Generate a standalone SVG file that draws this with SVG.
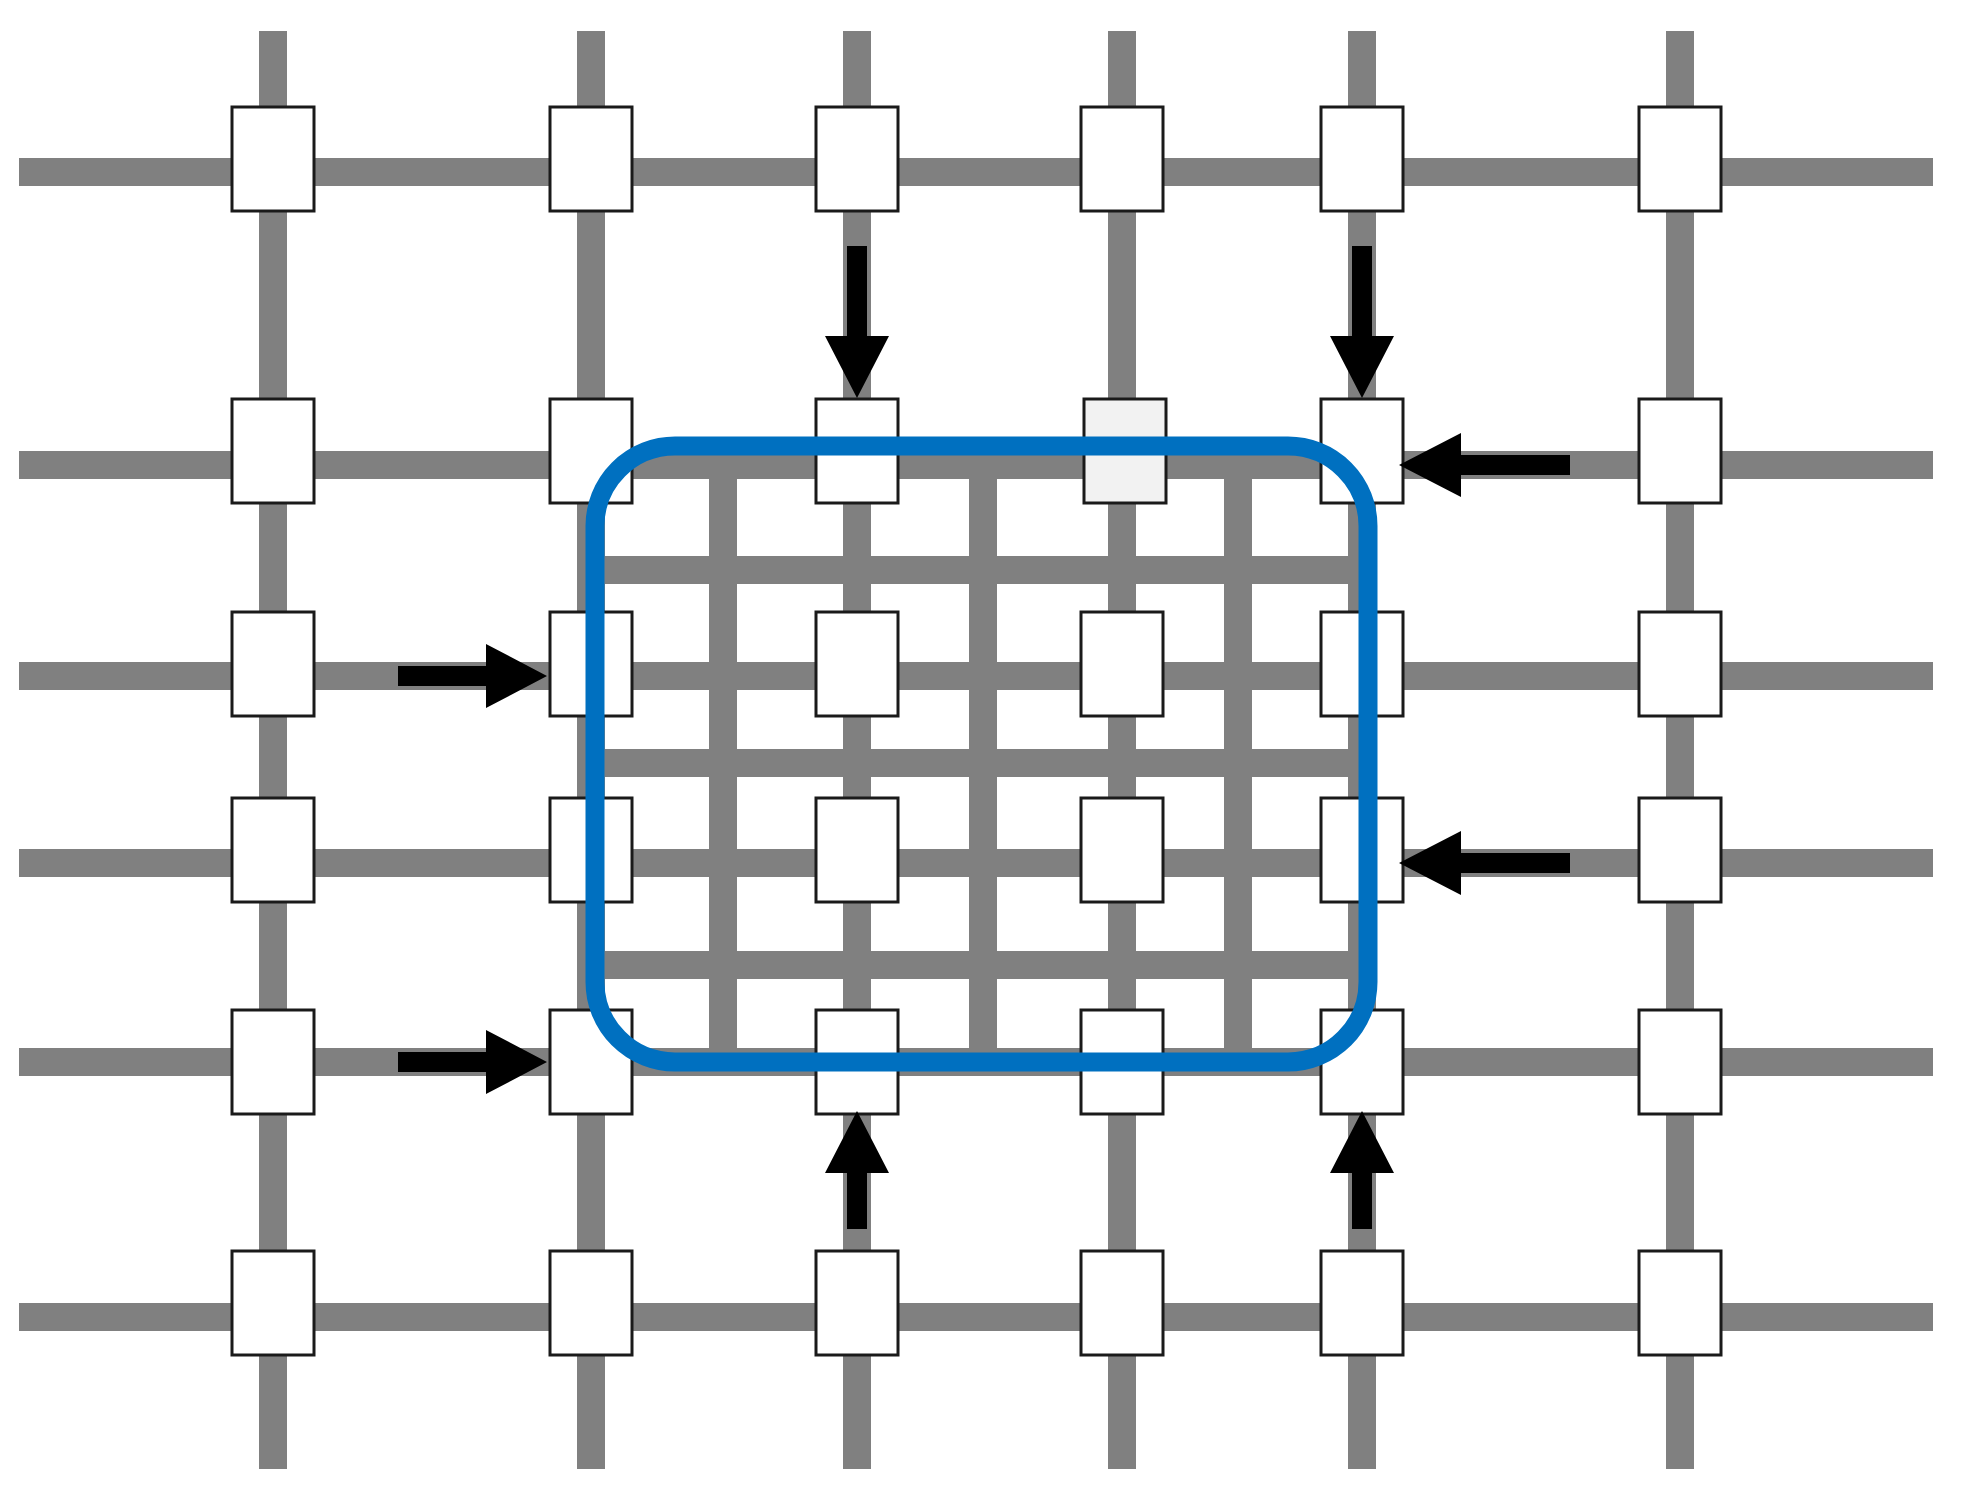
<svg xmlns="http://www.w3.org/2000/svg" width="1964" height="1496" viewBox="0 0 1964 1496">
<style>
.g{stroke:#808080;stroke-width:28;fill:none}
.b{fill:#fff;stroke:#1a1a1a;stroke-width:3}
.hl{fill:#f2f2f2}
.ar{fill:#000}
</style>
<defs>
<clipPath id="inner"><rect x="595" y="446" width="773" height="616" rx="80"/></clipPath>
<rect id="box" x="-41" y="-52" width="82" height="104"/>
</defs>
<rect width="1964" height="1496" fill="#fff"/>
<g id="connectors">
<g class="g">
<path d="M19 172H1933M19 465H1933M19 676H1933M19 863H1933M19 1062H1933M19 1317H1933"/>
<path d="M273 31V1469M591 31V1469M857 31V1469M1122 31V1469M1362 31V1469M1680 31V1469"/>
<g clip-path="url(#inner)">
<path d="M723 440V1070M983 440V1070M1238 440V1070M590 570H1370M590 763H1370M590 965H1370"/>
</g>
</g>
</g>
<g id="nodes">
<g id="r1">
<use href="#box" class="b" x="273" y="159"/><use href="#box" class="b" x="591" y="159"/><use href="#box" class="b" x="857" y="159"/><use href="#box" class="b" x="1122" y="159"/><use href="#box" class="b" x="1362" y="159"/><use href="#box" class="b" x="1680" y="159"/>
</g>
<g id="r2">
<use href="#box" class="b" x="273" y="451"/><use href="#box" class="b" x="591" y="451"/><use href="#box" class="b" x="857" y="451"/><use href="#box" class="b hl" x="1125" y="451"/><use href="#box" class="b" x="1362" y="451"/><use href="#box" class="b" x="1680" y="451"/>
</g>
<g id="r3">
<use href="#box" class="b" x="273" y="664"/><use href="#box" class="b" x="591" y="664"/><use href="#box" class="b" x="857" y="664"/><use href="#box" class="b" x="1122" y="664"/><use href="#box" class="b" x="1362" y="664"/><use href="#box" class="b" x="1680" y="664"/>
</g>
<g id="r4">
<use href="#box" class="b" x="273" y="850"/><use href="#box" class="b" x="591" y="850"/><use href="#box" class="b" x="857" y="850"/><use href="#box" class="b" x="1122" y="850"/><use href="#box" class="b" x="1362" y="850"/><use href="#box" class="b" x="1680" y="850"/>
</g>
<g id="r5">
<use href="#box" class="b" x="273" y="1062"/><use href="#box" class="b" x="591" y="1062"/><use href="#box" class="b" x="857" y="1062"/><use href="#box" class="b" x="1122" y="1062"/><use href="#box" class="b" x="1362" y="1062"/><use href="#box" class="b" x="1680" y="1062"/>
</g>
<g id="r6">
<use href="#box" class="b" x="273" y="1303"/><use href="#box" class="b" x="591" y="1303"/><use href="#box" class="b" x="857" y="1303"/><use href="#box" class="b" x="1122" y="1303"/><use href="#box" class="b" x="1362" y="1303"/><use href="#box" class="b" x="1680" y="1303"/>
</g>
</g>
<g id="region">
<rect x="595" y="446" width="773" height="616" rx="80" fill="none" stroke="#0070c0" stroke-width="19"/>
</g>
<g id="arrows" class="ar">
<polygon points="847,246 867,246 867,336 889,336 857,398 825,336 847,336"/>
<polygon points="1352,246 1372,246 1372,336 1394,336 1362,398 1330,336 1352,336"/>
<polygon points="847,1229 867,1229 867,1173 889,1173 857,1111 825,1173 847,1173"/>
<polygon points="1352,1229 1372,1229 1372,1173 1394,1173 1362,1111 1330,1173 1352,1173"/>
<polygon points="1570,455 1570,475 1461,475 1461,497 1399,465 1461,433 1461,455"/>
<polygon points="1570,853 1570,873 1461,873 1461,895 1399,863 1461,831 1461,853"/>
<polygon points="398,666 398,686 486,686 486,708 547,676 486,644 486,666"/>
<polygon points="398,1052 398,1072 486,1072 486,1094 547,1062 486,1030 486,1052"/>
</g>
</svg>
